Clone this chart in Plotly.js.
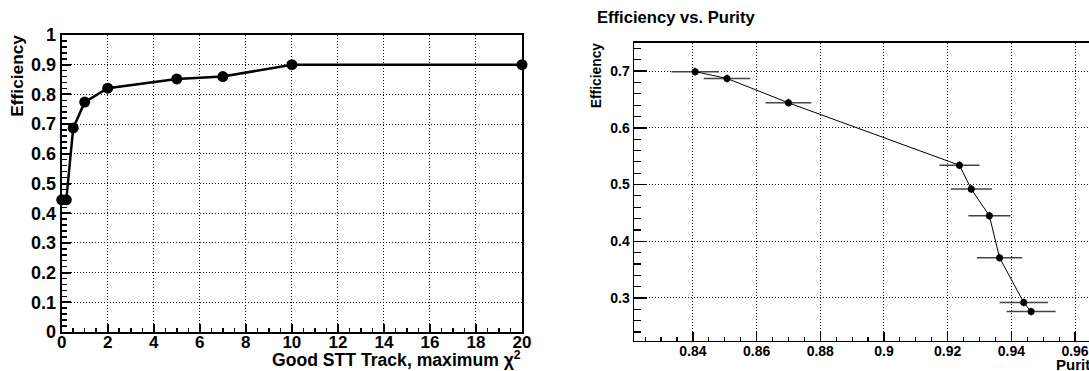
<!DOCTYPE html>
<html>
<head>
<meta charset="utf-8">
<script src="https://cdn.plot.ly/plotly-3.0.1.min.js"></script>
<style>
html, body { margin:0; padding:0; overflow:hidden; background:#fff; width:1089px; height:371px; }
#chart { width:1100px; height:371px; }
</style>
</head>
<body>
<div id="chart"></div>
<script>
// Left panel: efficiency vs maximum chi2 cut
var chi2Max = [0, 0.2, 0.5, 1, 2, 5, 7, 10, 20];
var effChi2 = [0.445, 0.445, 0.687, 0.774, 0.821, 0.852, 0.860, 0.900, 0.900];

// Right panel: efficiency vs purity
var purity     = [0.8407, 0.8507, 0.8700, 0.9237, 0.9274, 0.9331, 0.9363, 0.9439, 0.9462];
var purityErr  = [0.0074, 0.0073, 0.0072, 0.0063, 0.0065, 0.0066, 0.0071, 0.0076, 0.0077];
var efficiency = [0.699, 0.687, 0.644, 0.534, 0.492, 0.445, 0.371, 0.292, 0.276];
var effErr     = [0.007, 0.007, 0.007, 0.007, 0.007, 0.007, 0.007, 0.007, 0.007];

var leftXTitle = 'Good STT Track, maximum χ<sup>2</sup>';
var leftYTitle = 'Efficiency';
var rightTitle = 'Efficiency vs. Purity';
var rightXTitle = 'Purity';
var rightYTitle = 'Efficiency';

var W = 1100, H = 371;
function px(x){ return x / W; }
function py(y){ return (H - y) / H; }

var bold = function(sz){ return {family:'Liberation Sans, Arial, sans-serif', size:sz, color:'#000', weight:'bold'}; };

var traces = [
  {
    x: chi2Max, y: effChi2, xaxis:'x', yaxis:'y', type:'scatter', mode:'lines+markers',
    line:{color:'#000', width:2.5}, marker:{color:'#000', size:11}, cliponaxis:false
  },
  {
    x: purity, y: efficiency, xaxis:'x2', yaxis:'y2', type:'scatter', mode:'lines+markers',
    line:{color:'#000', width:1}, marker:{color:'#000', size:7},
    error_x:{type:'data', array:purityErr, visible:true, color:'#444', thickness:1.5, width:0},
    error_y:{type:'data', array:effErr, visible:true, color:'#444', thickness:1.5, width:0}
  }
];

function axisBase(){
  return {
    showline:true, mirror:true, linecolor:'#000', zeroline:false,
    showgrid:true, gridcolor:'#111', gridwidth:1, griddash:'1px,2px',
    ticks:'inside', tickcolor:'#000', fixedrange:true
  };
}

var xa = Object.assign(axisBase(), {
  domain:[px(61.7), px(522)], range:[0,20], dtick:2, tick0:0, anchor:'y',
  ticklen:8, tickwidth:2, linewidth:2, tickfont:bold(17), ticklabelstandoff:-6,
  minor:{dtick:0.5, ticklen:4, tickwidth:1.5, ticks:'inside', tickcolor:'#000', showgrid:false}
});
var ya = Object.assign(axisBase(), {
  domain:[py(332), py(35)], range:[0,1], dtick:0.1, tick0:0, anchor:'x',
  ticklen:9, tickwidth:2, linewidth:2, tickfont:bold(18),
  minor:{dtick:0.02, ticklen:5, tickwidth:1.5, ticks:'inside', tickcolor:'#000', showgrid:false}
});
var xa2 = Object.assign(axisBase(), {
  domain:[px(634), px(1097)], range:[0.8215, 0.9669], dtick:0.02, tick0:0, anchor:'y2',
  ticklen:9, tickwidth:1.5, linewidth:1.5, tickfont:bold(14), ticklabelstandoff:-3,
  minor:{dtick:0.005, ticklen:4, tickwidth:1.2, ticks:'inside', tickcolor:'#000', showgrid:false}
});
var ya2 = Object.assign(axisBase(), {
  domain:[py(340.7), py(42.7)], range:[0.2247, 0.75], dtick:0.1, tick0:0, anchor:'x2',
  ticklen:13, tickwidth:1.5, linewidth:1.5, tickfont:bold(14),
  minor:{dtick:0.02, ticklen:7, tickwidth:1.2, ticks:'inside', tickcolor:'#000', showgrid:false}
});

var layout = {
  width:W, height:H, margin:{l:0, r:0, t:0, b:0},
  paper_bgcolor:'#fff', plot_bgcolor:'#fff', showlegend:false,
  xaxis:xa, yaxis:ya, xaxis2:xa2, yaxis2:ya2,
  annotations:[
    {text:leftXTitle, xref:'paper', yref:'paper', x:px(523), y:py(359), xanchor:'right', yanchor:'middle', showarrow:false, font:bold(17.6)},
    {text:leftYTitle, xref:'paper', yref:'paper', x:px(16.7), y:py(76), xanchor:'center', yanchor:'middle', textangle:-90, showarrow:false, font:bold(17.3)},
    {text:rightTitle, xref:'paper', yref:'paper', x:px(595), y:py(17), xanchor:'left', yanchor:'middle', showarrow:false, font:bold(16.6)},
    {text:rightXTitle, xref:'paper', yref:'paper', x:px(1054), y:py(364), xanchor:'left', yanchor:'middle', showarrow:false, font:bold(15)},
    {text:rightYTitle, xref:'paper', yref:'paper', x:px(596.7), y:py(75.5), xanchor:'center', yanchor:'middle', textangle:-90, showarrow:false, font:bold(13.8)}
  ]
};

Plotly.newPlot('chart', traces, layout, {displayModeBar:false, staticPlot:true});
</script>
</body>
</html>
